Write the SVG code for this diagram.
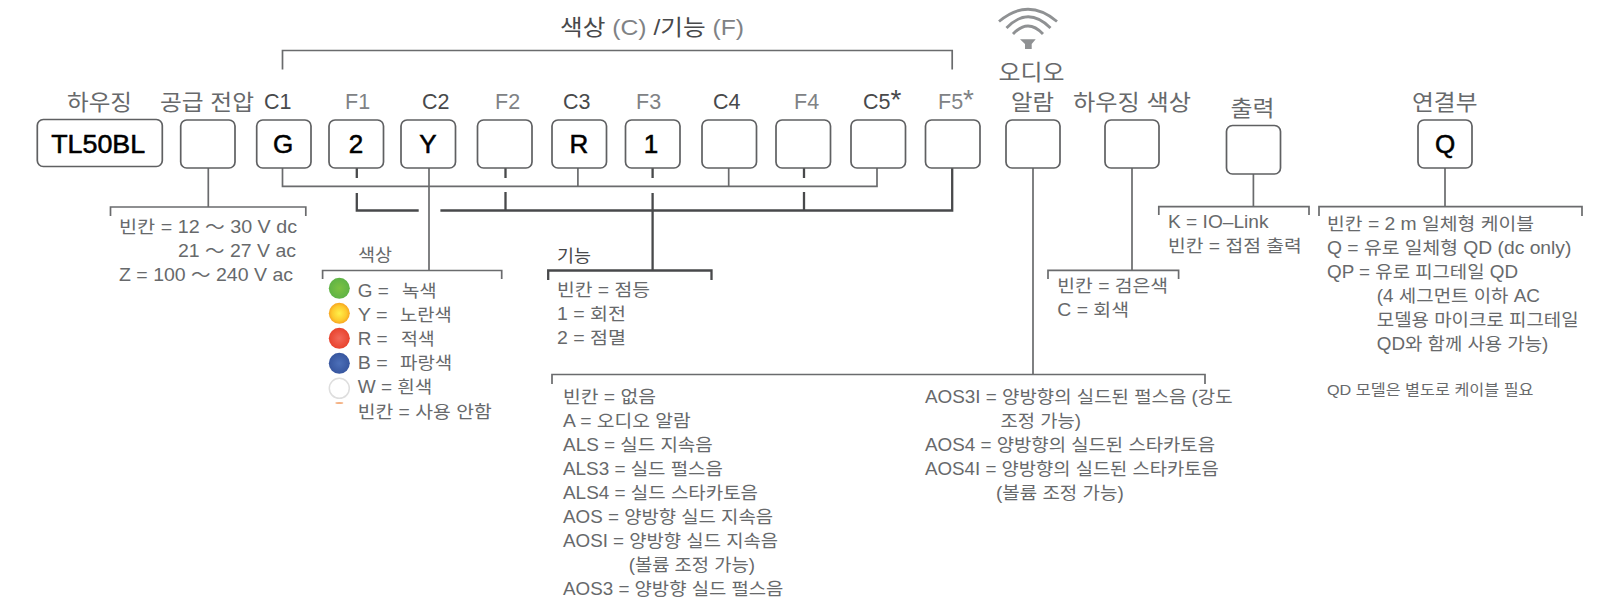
<svg xmlns="http://www.w3.org/2000/svg" width="1606" height="604" viewBox="0 0 1606 604">
<style>
text{font-family:"Liberation Sans","Noto Sans CJK KR",sans-serif;fill:#67696b}
.h{font-size:21.5px}
.f{fill:#808285}
.d{fill:#48494b}
.a{font-size:28px}
.t{font-size:17.5px}
.s{font-size:14.5px}
.v{font-size:26px;fill:#000;stroke:#000;stroke-width:.55;text-anchor:middle}
.b{fill:#fff;stroke:#5f6062;stroke-width:1.7}
.c{fill:none;stroke:#6a6b6d;stroke-width:1.7}
.k{fill:none;stroke:#48494b;stroke-width:2.3}
.w{fill:none;stroke:#8f9193;stroke-width:2.8}
</style>
<defs>
<radialGradient id="gG"><stop offset="0" stop-color="#7cc242"/><stop offset="1" stop-color="#5fb346"/></radialGradient>
<radialGradient id="gY"><stop offset="0" stop-color="#fff04a"/><stop offset=".7" stop-color="#fdc92d"/><stop offset="1" stop-color="#f7a520"/></radialGradient>
<radialGradient id="gR"><stop offset="0" stop-color="#f2695a"/><stop offset="1" stop-color="#e8432e"/></radialGradient>
<radialGradient id="gB"><stop offset="0" stop-color="#4c6fb8"/><stop offset="1" stop-color="#37569f"/></radialGradient>
</defs>
<g id="connectors">
<path class="c" d="M282.500 69.500V50.500H952.200V69.500"/>
<path class="c" d="M208.300 168V207M110.500 216V207H305.800V216"/>
<path class="c" d="M282.500 168V186.300H877V168M577.900 168V186.300M728.700 168V186.300"/>
<path class="c" d="M429 168V270.500M322.600 279V270.500H501.700V279"/>
<path class="k" d="M356.800 168V178M356.800 193V210.500H418.700M440.400 210.500H952.200V168M505.500 168V178M505.500 192V210.500M652.600 168V178M652.600 193V270.500M804 168V178M804 192V210.500"/>
<path class="k" d="M548.200 280V270.500H711.500V280"/>
<path class="c" d="M1033 168V374.500M552 384V374.500H1205V384"/>
<path class="c" d="M1132 168V270.300M1048 279V270.300H1178.600V279"/>
<path class="c" d="M1253.400 174V206.700M1158.800 215V206.700H1309V215"/>
<path class="c" d="M1445 168V206.700M1319 216V206.700H1582V216"/>
</g>
<g id="title"><text class="h d" x="560" y="35" textLength="184" lengthAdjust="spacingAndGlyphs">색상 <tspan class="f">(C)</tspan> /기능 <tspan class="f">(F)</tspan></text></g>
<g id="wifi">
<path class="w" d="M999 21.500Q1028 -3 1057 21.500"/>
<path class="w" d="M1006.500 28Q1028 5.500 1050.500 28"/>
<path class="w" d="M1013 34Q1028 18 1043 34"/>
<path fill="#8f9193" d="M1020 39.300H1035.700L1031.700 44V49H1025V44Z"/>
</g>
<g id="housing"><text class="h" x="67" y="110" textLength="65" lengthAdjust="spacingAndGlyphs">하우징</text><rect class="b" x="37.300" y="119.500" width="125" height="47" rx="6"/><text class="v" x="98.200" y="152.700" textLength="94" lengthAdjust="spacingAndGlyphs">TL50BL</text></g>
<g id="voltage"><text class="h" x="160" y="110" textLength="94" lengthAdjust="spacingAndGlyphs">공급 전압</text><rect class="b" x="180.700" y="120" width="54.300" height="48" rx="6"/>
<text class="t" x="119" y="232.700" textLength="178" lengthAdjust="spacingAndGlyphs">빈칸 = 12 ～ 30 V dc</text><text class="t" x="178" y="256.700" textLength="118" lengthAdjust="spacingAndGlyphs">21 ～ 27 V ac</text><text class="t" x="119" y="281" textLength="174" lengthAdjust="spacingAndGlyphs">Z = 100 ～ 240 V ac</text></g>
<g id="c1"><text class="h d" x="264" y="109">C1</text><rect class="b" x="256.700" y="120" width="54.300" height="48" rx="6"/><text class="v" x="283" y="153">G</text></g>
<g id="f1"><text class="h f" x="345" y="109">F1</text><rect class="b" x="329" y="120" width="54.500" height="48" rx="6"/><text class="v" x="356" y="153">2</text></g>
<g id="c2"><text class="h d" x="422" y="109">C2</text><rect class="b" x="401" y="120" width="54.500" height="48" rx="6"/><text class="v" x="428" y="153">Y</text></g>
<g id="f2"><text class="h f" x="495" y="109">F2</text><rect class="b" x="477.500" y="120" width="54.500" height="48" rx="6"/></g>
<g id="c3"><text class="h d" x="563" y="109">C3</text><rect class="b" x="552" y="120" width="54.500" height="48" rx="6"/><text class="v" x="579" y="153">R</text></g>
<g id="f3"><text class="h f" x="636" y="109">F3</text><rect class="b" x="625.500" y="120" width="54.500" height="48" rx="6"/><text class="v" x="651" y="153">1</text></g>
<g id="c4"><text class="h d" x="713" y="109">C4</text><rect class="b" x="702" y="120" width="54.500" height="48" rx="6"/></g>
<g id="f4"><text class="h f" x="794" y="109">F4</text><rect class="b" x="776" y="120" width="54.500" height="48" rx="6"/></g>
<g id="c5"><text class="h d" x="863" y="109">C5<tspan class="a">*</tspan></text><rect class="b" x="851" y="120" width="54.500" height="48" rx="6"/></g>
<g id="f5"><text class="h f" x="938" y="109">F5<tspan class="a">*</tspan></text><rect class="b" x="925.500" y="120" width="54.500" height="48" rx="6"/></g>
<g id="audio"><text class="h" x="998.500" y="80" textLength="66" lengthAdjust="spacingAndGlyphs">오디오</text><text class="h" x="1011" y="110" textLength="43" lengthAdjust="spacingAndGlyphs">알람</text><rect class="b" x="1006" y="120" width="54" height="48" rx="6"/>
<text class="t" x="563" y="403" textLength="93" lengthAdjust="spacingAndGlyphs">빈칸 = 없음</text>
<text class="t" x="563" y="427" textLength="127.700" lengthAdjust="spacingAndGlyphs">A = 오디오 알람</text>
<text class="t" x="563" y="451" textLength="149.700" lengthAdjust="spacingAndGlyphs">ALS = 실드 지속음</text>
<text class="t" x="563" y="475" textLength="159.800" lengthAdjust="spacingAndGlyphs">ALS3 = 실드 펄스음</text>
<text class="t" x="563" y="499" textLength="195" lengthAdjust="spacingAndGlyphs">ALS4 = 실드 스타카토음</text>
<text class="t" x="563" y="523" textLength="210" lengthAdjust="spacingAndGlyphs">AOS = 양방향 실드 지속음</text>
<text class="t" x="563" y="547" textLength="215" lengthAdjust="spacingAndGlyphs">AOSI = 양방향 실드 지속음</text>
<text class="t" x="628.700" y="571" textLength="126.300" lengthAdjust="spacingAndGlyphs">(볼륨 조정 가능)</text>
<text class="t" x="563" y="595" textLength="220.400" lengthAdjust="spacingAndGlyphs">AOS3 = 양방향 실드 펄스음</text>
<text class="t" x="925" y="403" textLength="307.500" lengthAdjust="spacingAndGlyphs">AOS3I = 양방향의 실드된 펄스음 (강도</text>
<text class="t" x="1000.600" y="427" textLength="80.400" lengthAdjust="spacingAndGlyphs">조정 가능)</text>
<text class="t" x="925" y="451" textLength="290" lengthAdjust="spacingAndGlyphs">AOS4 = 양방향의 실드된 스타카토음</text>
<text class="t" x="925" y="475" textLength="293.700" lengthAdjust="spacingAndGlyphs">AOS4I = 양방향의 실드된 스타카토음</text>
<text class="t" x="996" y="499" textLength="127.700" lengthAdjust="spacingAndGlyphs">(볼륨 조정 가능)</text></g>
<g id="housing-color"><text class="h" x="1073" y="110" textLength="118" lengthAdjust="spacingAndGlyphs">하우징 색상</text><rect class="b" x="1105" y="120" width="54" height="48" rx="6"/>
<text class="t" x="1057.300" y="292" textLength="110.700" lengthAdjust="spacingAndGlyphs">빈칸 = 검은색</text><text class="t" x="1057.300" y="316" textLength="71.700" lengthAdjust="spacingAndGlyphs">C = 회색</text></g>
<g id="output"><text class="h" x="1230.600" y="116" textLength="44" lengthAdjust="spacingAndGlyphs">출력</text><rect class="b" x="1226.500" y="125.500" width="54" height="48.500" rx="6"/>
<text class="t" x="1168" y="227.700" textLength="100.500" lengthAdjust="spacingAndGlyphs">K = IO–Link</text><text class="t" x="1168" y="251.700" textLength="133.700" lengthAdjust="spacingAndGlyphs">빈칸 = 접점 출력</text></g>
<g id="connection"><text class="h" x="1412" y="110" textLength="65.500" lengthAdjust="spacingAndGlyphs">연결부</text><rect class="b" x="1418" y="120" width="54" height="48" rx="6"/><text class="v" x="1445" y="153">Q</text>
<text class="t" x="1327" y="230" textLength="207" lengthAdjust="spacingAndGlyphs">빈칸 = 2 m 일체형 케이블</text>
<text class="t" x="1327" y="254" textLength="244.400" lengthAdjust="spacingAndGlyphs">Q = 유로 일체형 QD (dc only)</text>
<text class="t" x="1327" y="278" textLength="191" lengthAdjust="spacingAndGlyphs">QP = 유로 피그테일 QD</text>
<text class="t" x="1376.800" y="302" textLength="163.200" lengthAdjust="spacingAndGlyphs">(4 세그먼트 이하 AC</text>
<text class="t" x="1376.800" y="326" textLength="201.800" lengthAdjust="spacingAndGlyphs">모델용 마이크로 피그테일</text>
<text class="t" x="1376.800" y="350" textLength="171.500" lengthAdjust="spacingAndGlyphs">QD와 함께 사용 가능)</text>
<text class="s" x="1327" y="395" textLength="206.500" lengthAdjust="spacingAndGlyphs">QD 모델은 별도로 케이블 필요</text></g>
<g id="color-legend"><text class="t" x="358" y="261" textLength="34" lengthAdjust="spacingAndGlyphs">색상</text>
<circle cx="339.300" cy="288.300" r="10.500" fill="url(#gG)"/><circle cx="339.300" cy="313.300" r="10.500" fill="url(#gY)"/><circle cx="339.300" cy="338.300" r="10.500" fill="url(#gR)"/><circle cx="339.300" cy="363.300" r="10.500" fill="url(#gB)"/><circle cx="339.300" cy="388.300" r="10" fill="#fff" stroke="#dedede" stroke-width="1.500"/><ellipse cx="339.300" cy="403" rx="4" ry="1" fill="#f4b183"/>
<text class="t" x="357.700" y="296.700" textLength="31" lengthAdjust="spacingAndGlyphs">G =</text><text class="t" x="402" y="296.700" textLength="34.700" lengthAdjust="spacingAndGlyphs">녹색</text>
<text class="t" x="357.700" y="320.700" textLength="30" lengthAdjust="spacingAndGlyphs">Y =</text><text class="t" x="400" y="320.700" textLength="51.700" lengthAdjust="spacingAndGlyphs">노란색</text>
<text class="t" x="357.700" y="345" textLength="30" lengthAdjust="spacingAndGlyphs">R =</text><text class="t" x="401" y="345" textLength="33.700" lengthAdjust="spacingAndGlyphs">적색</text>
<text class="t" x="357.700" y="369" textLength="30" lengthAdjust="spacingAndGlyphs">B =</text><text class="t" x="400" y="369" textLength="52.300" lengthAdjust="spacingAndGlyphs">파랑색</text>
<text class="t" x="357.700" y="393" textLength="74.600" lengthAdjust="spacingAndGlyphs">W = 흰색</text>
<text class="t" x="357.700" y="417.700" textLength="134" lengthAdjust="spacingAndGlyphs">빈칸 = 사용 안함</text></g>
<g id="function-legend"><text class="t d" x="557" y="262" textLength="34" lengthAdjust="spacingAndGlyphs">기능</text>
<text class="t" x="557" y="296" textLength="93" lengthAdjust="spacingAndGlyphs">빈칸 = 점등</text><text class="t" x="557" y="320" textLength="69" lengthAdjust="spacingAndGlyphs">1 = 회전</text><text class="t" x="557" y="344" textLength="69" lengthAdjust="spacingAndGlyphs">2 = 점멸</text></g>
</svg>
